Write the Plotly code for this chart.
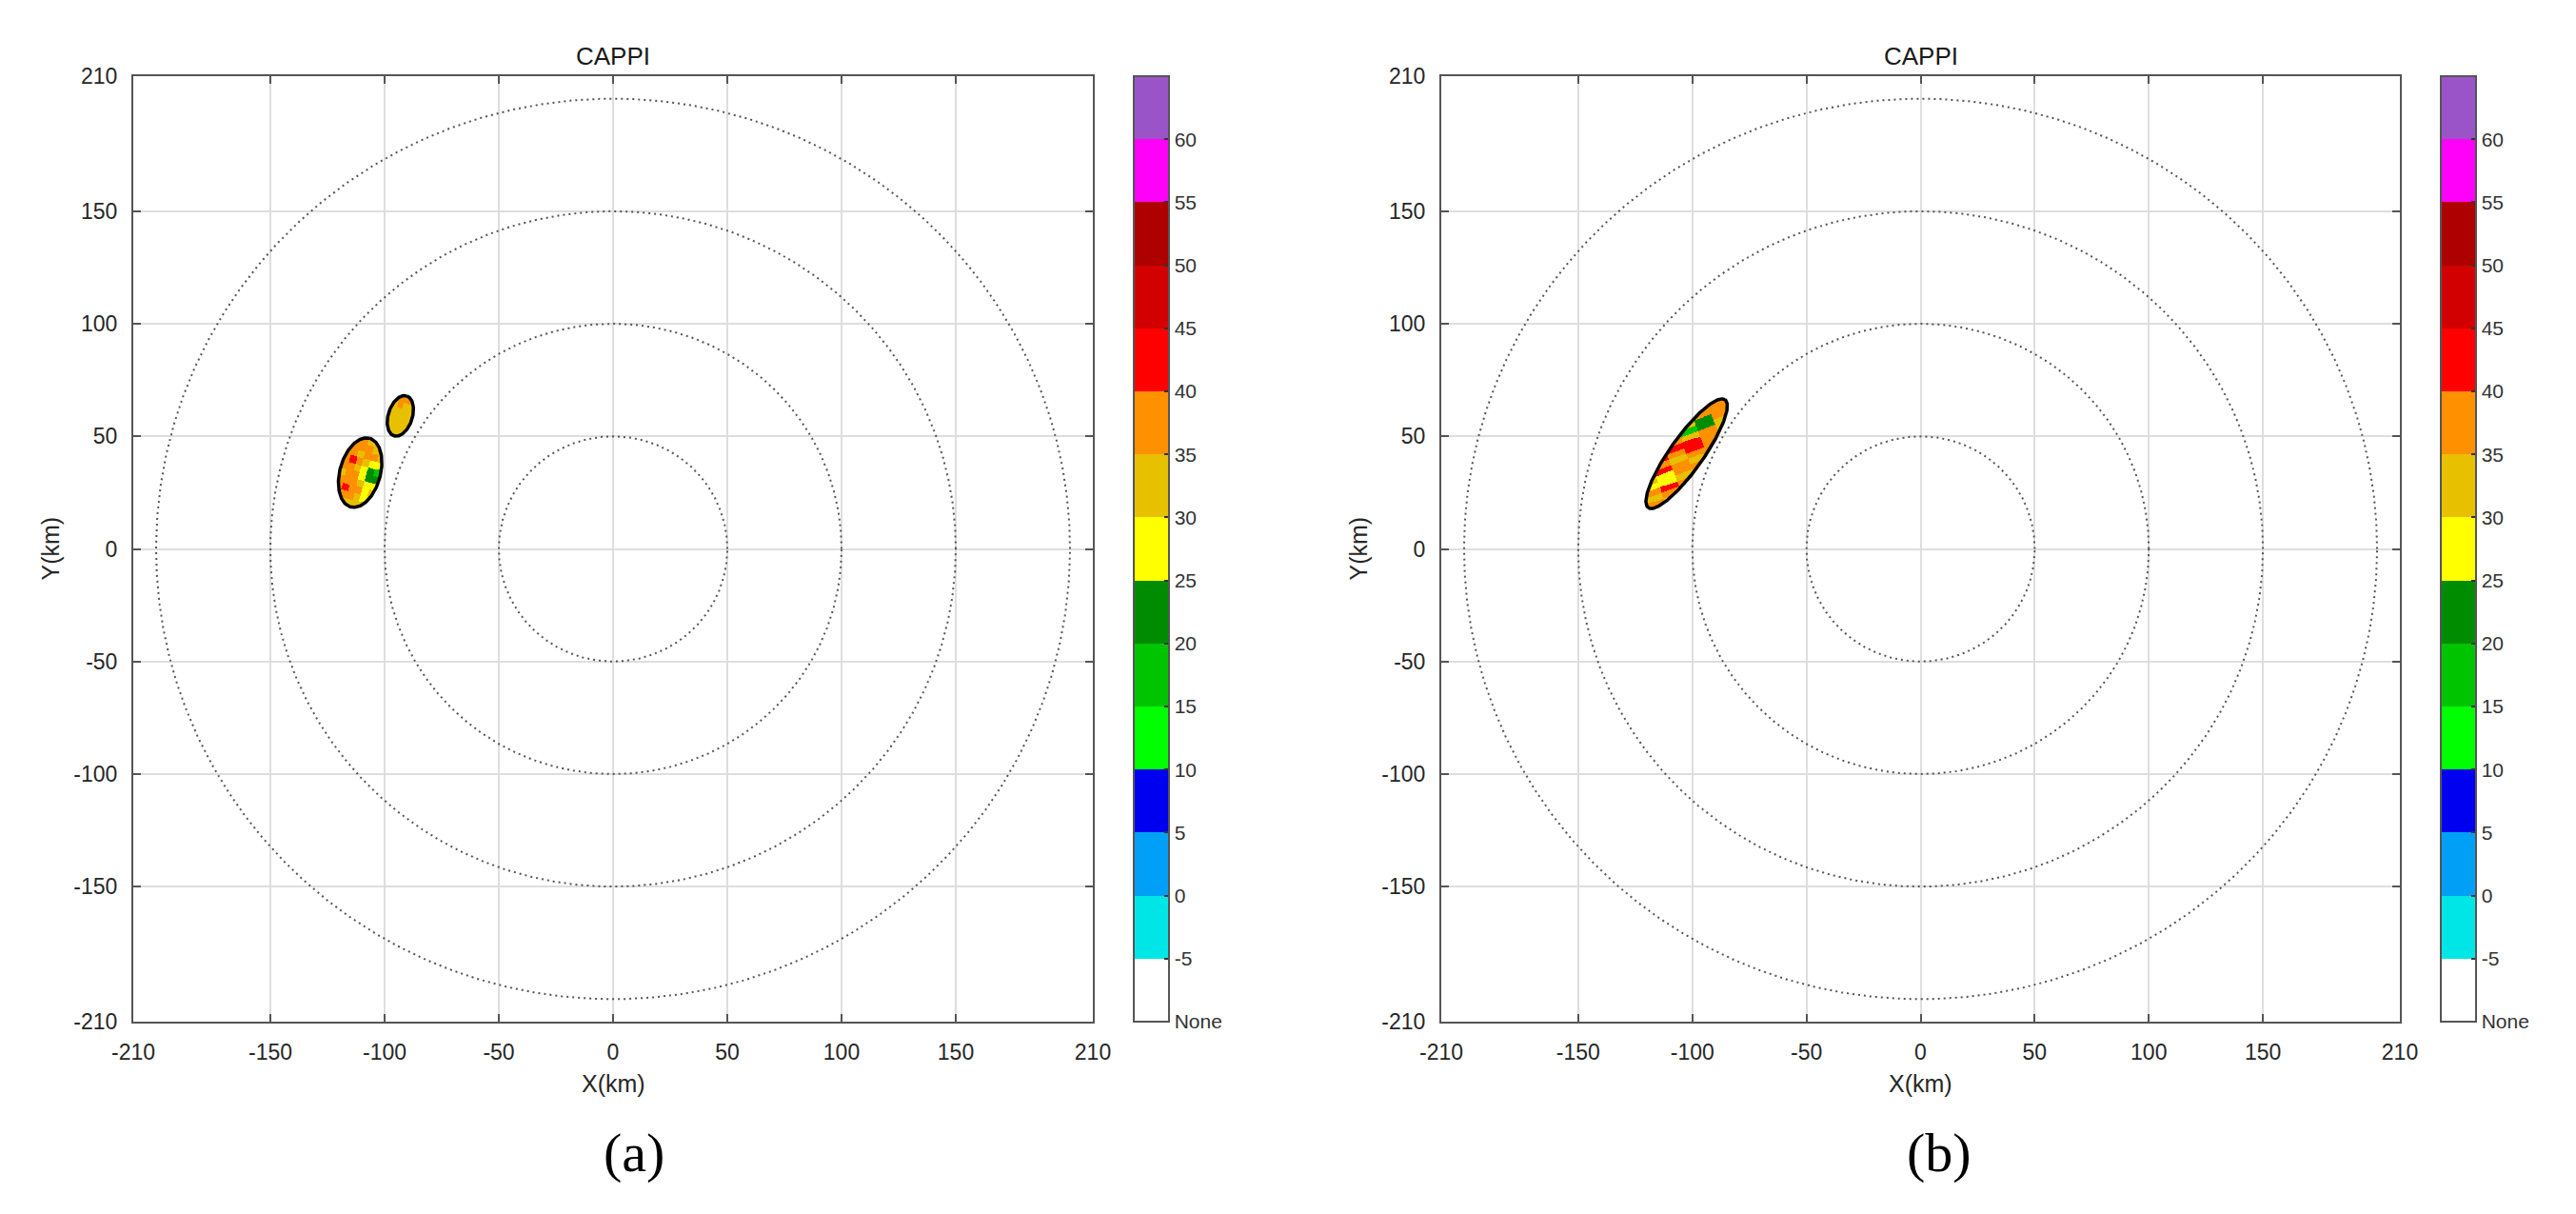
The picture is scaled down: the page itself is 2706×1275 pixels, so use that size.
import numpy as np
import plotly.graph_objects as go

W, H = 2706, 1275          # browser window
OFF = 8                    # default page margin around the figure div
FW, FH = W - 2 * OFF, H - 2 * OFF

# ---------------- data ----------------
axis_ticks = [-210, -150, -100, -50, 0, 50, 100, 150, 210]
ring_radii = [50, 100, 150, 200]

# reflectivity colour scale (dBZ bins of 5, lowest bin = "None")
cb_edges = [-10, -5, 0, 5, 10, 15, 20, 25, 30, 35, 40, 45, 50, 55, 60, 65]
cb_colors = ["#FFFFFF", "#00E6E6", "#01A0F6", "#0000F0", "#00FF00", "#00C400",
             "#008C00", "#FFFF00", "#E7C000", "#FF9000", "#FF0000", "#D20000",
             "#AE0000", "#FF00F8", "#9A54C8"]
cb_tickvals = [-10, -5, 0, 5, 10, 15, 20, 25, 30, 35, 40, 45, 50, 55, 60]
cb_ticktext = ["None", "-5", "0", "5", "10", "15", "20", "25", "30", "35",
               "40", "45", "50", "55", "60"]

# echo cells: centre x, centre y (km), semi-major, semi-minor (km), major-axis angle (deg)
cells_a = [(-110.7, 33.9, 15.8, 8.9, 75.0),
           (-93.1, 59.1, 9.3, 5.3, 73.0)]
cells_b = [(-102.5, 42.3, 29.3, 7.3, 55.0)]
# direction (deg) of the rows of each dBZ table below
rows_dir_a = [-15.0, -17.0]
rows_dir_b = [20.0]

# dBZ: rows from top to bottom, columns from left to right
dbz_a_big = [[32, 37, 37, 32, 32, 32],
             [37, 37, 37, 37, 32, 32],
             [37, 37, 32, 37, 37, 32],
             [37, 42, 37, 32, 27, 27],
             [37, 37, 32, 27, 22, 17],
             [32, 37, 37, 27, 22, 22],
             [37, 37, 37, 32, 27, 27],
             [37, 42, 37, 37, 27, 32],
             [32, 37, 37, 32, 27, 32],
             [32, 32, 32, 32, 32, 32]]
dbz_a_small = [[37, 37, 37, 32],
               [32, 37, 32, 32],
               [32, 32, 32, 32],
               [32, 32, 32, 32],
               [32, 32, 32, 32],
               [32, 32, 32, 32]]
dbz_b = [[37, 37, 37, 37, 37, 37],
         [37, 37, 37, 42, 37, 37],
         [32, 32, 37, 32, 22, 37],
         [37, 37, 32, 17, 22, 32],
         [32, 32, 37, 32, 37, 32],
         [37, 37, 42, 42, 37, 37],
         [37, 42, 37, 42, 37, 37],
         [42, 37, 32, 37, 37, 37],
         [37, 42, 37, 32, 37, 37],
         [32, 27, 37, 37, 37, 37],
         [27, 27, 32, 27, 37, 37],
         [37, 42, 37, 37, 32, 37],
         [32, 37, 42, 32, 37, 37],
         [37, 32, 37, 37, 32, 32]]

titles = ["CAPPI", "CAPPI"]
panel_labels = ["(a)", "(b)"]

# ---------------- layout geometry (window pixels) ----------------
ax_top, ax_bot = 80, 1073
panels = [dict(left=140, right=1148, cb_left=1191, lab_x=666),
          dict(left=1514, right=2521, cb_left=2564, lab_x=2037)]


def px_x(p):
    return (p - OFF) / FW


def px_y(p):
    return 1 - (p - OFF) / FH


# grid on which cells are rasterised
gx = np.arange(-140, -65, 0.4)
gy = np.arange(0, 85, 0.4)


def half_extent(a, b, th, phi):
    d = np.array([np.cos(phi), np.sin(phi)])
    eu = np.array([np.cos(th), np.sin(th)])
    ev = np.array([np.sin(th), -np.cos(th)])
    return np.sqrt((a * d @ eu) ** 2 + (b * d @ ev) ** 2)


def raster(cells, grids, row_dirs):
    XX, YY = np.meshgrid(gx, gy)
    Z = np.full(XX.shape, np.nan)
    for (cx, cy, a, b, ang), G, rdir in zip(cells, grids, row_dirs):
        G = np.array(G, dtype=float)
        nr, nc = G.shape
        th = np.radians(ang)
        phi = np.radians(rdir)
        dx, dy = XX - cx, YY - cy
        u = (dx * np.cos(th) + dy * np.sin(th)) / a
        v = (dx * np.sin(th) - dy * np.cos(th)) / b
        inside = u ** 2 + v ** 2 <= 1
        C = half_extent(a, b, th, phi)
        R = half_extent(a, b, th, phi + np.pi / 2)
        cc = dx * np.cos(phi) + dy * np.sin(phi)
        rr = dx * np.cos(phi + np.pi / 2) + dy * np.sin(phi + np.pi / 2)
        ri = np.clip(np.floor((R - rr) / (2 * R) * nr).astype(int), 0, nr - 1)
        ci = np.clip(np.floor((cc + C) / (2 * C) * nc).astype(int), 0, nc - 1)
        Z[inside] = G[ri, ci][inside]
    return Z


def outline(cell):
    cx, cy, a, b, ang = cell
    th = np.radians(ang)
    t = np.linspace(0, 2 * np.pi, 240)
    x = cx + a * np.cos(t) * np.cos(th) - b * np.sin(t) * np.sin(th)
    y = cy + a * np.cos(t) * np.sin(th) + b * np.sin(t) * np.cos(th)
    return x, y


# discrete colour scale
zmin, zmax = cb_edges[0], cb_edges[-1]
cscale = []
n = len(cb_colors)
for i, c in enumerate(cb_colors):
    cscale.append([i / n, c])
    cscale.append([(i + 1) / n, c])

fig = go.Figure()
FONT = "Liberation Sans, Arial, sans-serif"
tick_font = dict(family=FONT, size=23, color="#262626")
ring_t = np.linspace(0, 2 * np.pi, 721)

panel_data = [(cells_a, [dbz_a_big, dbz_a_small], rows_dir_a), (cells_b, [dbz_b], rows_dir_b)]

for k, (cells, grids, rdirs) in enumerate(panel_data):
    xa = "x" if k == 0 else "x2"
    ya = "y" if k == 0 else "y2"
    P = panels[k]
    # range rings
    for r in ring_radii:
        fig.add_trace(go.Scatter(x=r * np.cos(ring_t), y=r * np.sin(ring_t), mode="lines",
                                 line=dict(color="#555555", width=2, dash="2px,4px"),
                                 hoverinfo="skip", showlegend=False, xaxis=xa, yaxis=ya))
    Z = raster(cells, grids, rdirs)
    fig.add_trace(go.Heatmap(
        x=gx, y=gy, z=Z, zmin=zmin, zmax=zmax, colorscale=cscale, zsmooth=False,
        hoverinfo="skip", xaxis=xa, yaxis=ya,
        colorbar=dict(
            x=px_x(P["cb_left"]), xanchor="left", xref="paper",
            y=px_y((ax_top + ax_bot) / 2), yanchor="middle", yref="paper",
            len=ax_bot - ax_top, lenmode="pixels",
            thickness=37, thicknessmode="pixels",
            xpad=0, ypad=0,
            outlinewidth=2, outlinecolor="#555555",
            tickmode="array", tickvals=cb_tickvals, ticktext=cb_ticktext,
            ticks="inside", ticklen=6, tickcolor="#333333", tickwidth=2,
            tickfont=dict(family=FONT, size=21, color="#333333"),
        )))
    for c in cells:
        ox, oy = outline(c)
        fig.add_trace(go.Scatter(x=ox, y=oy, mode="lines", line=dict(color="black", width=3.5),
                                 hoverinfo="skip", showlegend=False, xaxis=xa, yaxis=ya))

axis_common = dict(range=[-210, 210], tickmode="array", tickvals=axis_ticks,
                   ticktext=[str(v) for v in axis_ticks], automargin=False,
                   showgrid=True, gridcolor="#DEDEDE", gridwidth=1.5,
                   zeroline=False, showline=True, linecolor="#555555", linewidth=2,
                   mirror="allticks", ticks="inside", ticklen=8, tickwidth=2, tickcolor="#555555",
                   tickfont=tick_font, ticklabelstandoff=10)

annotations = []
for k in range(2):
    P = panels[k]
    xd = [px_x(P["left"]), px_x(P["right"])]
    yd = [px_y(ax_bot), px_y(ax_top)]
    sx = "" if k == 0 else "2"
    fig.layout["xaxis" + sx] = dict(axis_common, domain=xd, anchor="y" + sx)
    fig.layout["yaxis" + sx] = dict(axis_common, domain=yd, anchor="x" + sx)
    cx = (P["left"] + P["right"]) / 2
    annotations.append(dict(text=titles[k], x=px_x(cx), y=px_y(59), xref="paper", yref="paper",
                            showarrow=False, xanchor="center", yanchor="middle",
                            font=dict(family=FONT, size=26, color="#1a1a1a")))
    annotations.append(dict(text="X(km)", x=px_x(cx), y=px_y(1138), xref="paper", yref="paper",
                            showarrow=False, xanchor="center", yanchor="middle",
                            font=dict(family=FONT, size=25, color="#262626")))
    annotations.append(dict(text="Y(km)", x=px_x(P["left"] - 88), y=px_y((ax_top + ax_bot) / 2),
                            xref="paper", yref="paper", textangle=-90,
                            showarrow=False, xanchor="center", yanchor="middle",
                            font=dict(family=FONT, size=25, color="#262626")))
    annotations.append(dict(text=panel_labels[k], x=px_x(P["lab_x"]), y=px_y(1210), xref="paper", yref="paper",
                            showarrow=False, xanchor="center", yanchor="middle",
                            font=dict(family="Liberation Serif, Times New Roman, serif", size=58, color="black")))

fig.update_layout(width=FW, height=FH, margin=dict(l=0, r=0, t=0, b=0, autoexpand=False),
                  paper_bgcolor="white", plot_bgcolor="white", showlegend=False,
                  annotations=annotations)

fig.write_html("out.html")
